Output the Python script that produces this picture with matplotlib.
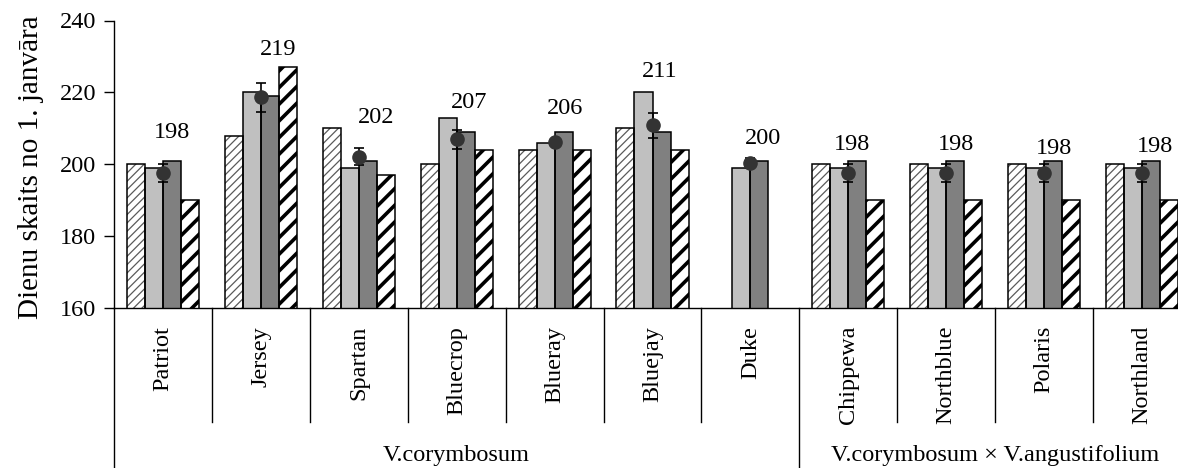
import numpy as np
import matplotlib
matplotlib.use("Agg")
import matplotlib.pyplot as plt

# ---------------- data ----------------
cultivars = ["Patriot", "Jersey", "Spartan", "Bluecrop", "Blueray", "Bluejay",
             "Duke", "Chippewa", "Northblue", "Polaris", "Northland"]
groups = ["V.corymbosum", "V.corymbosum \u00d7 V.angustifolium"]
group_sizes = [7, 4]

series1 = [200, 208, 210, 200, 204, 210, np.nan, 200, 200, 200, 200]
series2 = [199, 220, 199, 213, 206, 220, 199, 199, 199, 199, 199]
series3 = [201, 219, 201, 209, 209, 209, 201, 201, 201, 201, 201]
series4 = [190, 227, 197, 204, 204, 204, np.nan, 190, 190, 190, 190]
mean_vals = [197.5, 218.6, 202.1, 206.9, 206.2, 210.8, 200.3, 197.6, 197.6, 197.6, 197.6]
mean_err = [2.5, 4.0, 2.3, 2.7, 0.4, 3.4, 1.3, 2.5, 2.5, 2.5, 2.5]
mean_labels = ["198", "219", "202", "207", "206", "211", "200", "198", "198", "198", "198"]
yticks = [160, 180, 200, 220, 240]

# label placement (layout)
label_y = [208.7, 231.8, 212.9, 217.3, 215.4, 225.7, 207.3, 205.6, 205.6, 204.5, 204.8]
label_dx = [0.09, 0.18, 0.18, 0.13, 0.11, 0.07, 0.125, 0.035, 0.10, 0.10, 0.135]

# ---------------- style ----------------
plt.rcParams['font.family'] = ['Liberation Serif', 'DejaVu Serif']
FS = 17.5

W, H = 1178, 468
fig = plt.figure(figsize=(W / 100, H / 100), dpi=100)
left_px, right_px, top_px, bot_px = 114, 1191, 20.5, 308
ax = fig.add_axes([left_px / W, 1 - bot_px / H,
                   (right_px - left_px) / W, (bot_px - top_px) / H])

x = np.arange(len(cultivars))
bw = 0.184
offsets = [-1.5 * bw, -0.5 * bw, 0.5 * bw, 1.5 * bw]


def draw_bars(vals, off, face, hatch=None, hcolor=None, hlw=None):
    v = np.array(vals, dtype=float)
    m = ~np.isnan(v)
    xs = x[m] + off
    hs = v[m]
    if hatch:
        bars = ax.bar(xs, hs, bw, color=face, edgecolor=hcolor, hatch=hatch,
                      linewidth=0, zorder=2)
        for p in bars:
            if hasattr(p, 'set_hatch_linewidth'):
                p.set_hatch_linewidth(hlw)
    else:
        ax.bar(xs, hs, bw, color=face, linewidth=0, zorder=2)
    ax.bar(xs, hs, bw, fill=False, edgecolor='black', linewidth=1.1, zorder=3)


draw_bars(series1, offsets[0], 'white', hatch='////', hcolor='#5a5a5a', hlw=0.9)
draw_bars(series2, offsets[1], '#c0c0c0')
draw_bars(series3, offsets[2], '#808080')
draw_bars(series4, offsets[3], 'white', hatch='//', hcolor='black', hlw=2.6)

ax.errorbar(x, mean_vals, yerr=mean_err, fmt='none', ecolor='black',
            elinewidth=1.2, capsize=3.3, capthick=1.2, zorder=4)
ax.plot(x, mean_vals, 'o', color='#333333', markersize=9.5, zorder=5)

for i, lab in enumerate(mean_labels):
    ax.text(x[i] + label_dx[i], label_y[i], lab, ha='center', va='center',
            fontsize=FS, zorder=6)

ax.set_xlim(-0.5, len(cultivars) - 0.5)
ax.set_ylim(160, 240)
ax.set_yticks(yticks)
ax.set_yticklabels([str(t) for t in yticks], fontsize=FS)
ax.tick_params(axis='y', direction='out', length=7, width=1, pad=6)
ax.set_xticks([])
for s in ['top', 'right']:
    ax.spines[s].set_visible(False)
for s in ['left', 'bottom']:
    ax.spines[s].set_linewidth(1)

trans = ax.get_xaxis_transform()
# category labels
for i, c in enumerate(cultivars):
    ax.text(x[i], -0.062, c, transform=trans, rotation=90, ha='center',
            va='top', fontsize=FS)

# separators
sep_short = -(422 - bot_px) / (bot_px - top_px)
sep_long = -0.7
group_edges = np.cumsum([0] + group_sizes) - 0.5
for b in np.arange(-0.5, len(cultivars) - 0.5 + 0.01, 1.0):
    y0 = sep_long if np.any(np.isclose(b, group_edges)) else sep_short
    ax.plot([b, b], [0, y0], transform=trans, color='black', lw=1,
            clip_on=False, zorder=1)

# group labels
gy = -(456 - bot_px) / (bot_px - top_px)
for g, a, b in zip(groups, group_edges[:-1], group_edges[1:]):
    ax.text((a + b) / 2, gy, g, transform=trans, ha='center', va='center',
            fontsize=FS)

fig.text(31 / W, 1 - 167 / H, "Dienu skaits no 1. janv\u0101ra", rotation=90,
         ha='center', va='center', fontsize=21)

fig.savefig("out.png", dpi=100)
